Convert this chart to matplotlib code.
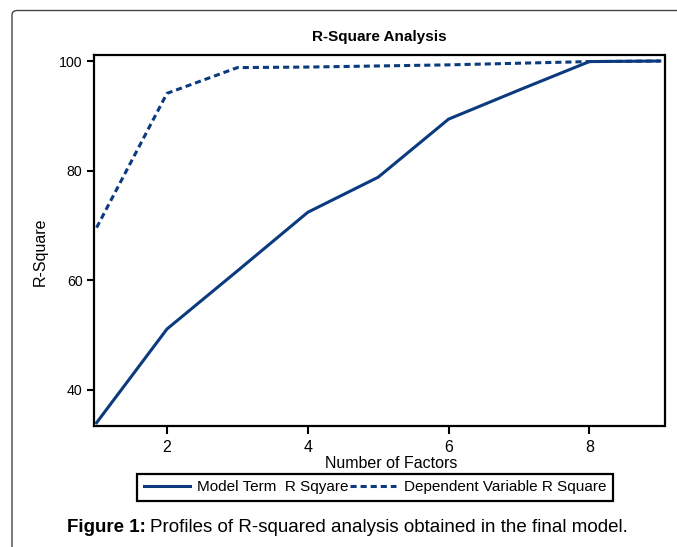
import matplotlib
matplotlib.use('Agg')
import matplotlib.pyplot as plt
from matplotlib.patches import FancyBboxPatch

# ── data ─────────────────────────────────────────────
factors = [1, 2, 3, 4, 5, 6, 7, 8, 9]
model_term_r2 = [34.0, 51.1, 61.7, 72.4, 78.8, 89.4, 94.7, 99.9, 100.0]
dependent_r2 = [69.6, 94.1, 98.8, 98.9, 99.1, 99.3, 99.6, 99.9, 100.0]
x_ticks = [2, 4, 6, 8]
y_ticks = [40, 60, 80, 100]

LINE_COLOR = '#0b3a7e'
plt.rcParams['font.family'] = ['Liberation Sans', 'DejaVu Sans']

fig = plt.figure(figsize=(6.77, 5.47), dpi=100)
fig.patch.set_facecolor('white')

# rounded page frame (open at right / bottom)
frame = FancyBboxPatch((12 / 677, -0.2), 1.2, 1 - 10.5 / 547 + 0.2,
                       boxstyle='round,pad=0,rounding_size=0.008',
                       transform=fig.transFigure, fill=False,
                       edgecolor='#444444', linewidth=1.0)
fig.patches.append(frame)

ax = fig.add_axes([93.5 / 677, 1 - 426 / 547, 571 / 677, 371 / 547])
ax.plot(factors, model_term_r2, color=LINE_COLOR, lw=2.2,
        label='Model Term  R Sqyare')
ax.plot(factors, dependent_r2, color=LINE_COLOR, lw=2.2,
        linestyle=(0, (2, 1.3)), label='Dependent Variable R Square')

ax.set_xlim(0.956, 9.067)
ax.set_ylim(33.4, 101.1)
ax.set_xticks(x_ticks)
ax.set_yticks(y_ticks)
ax.tick_params(axis='x', direction='out', length=6, width=1.5, labelsize=11.5, pad=4)
ax.tick_params(axis='y', direction='out', length=5, width=1.5, labelsize=10.2, pad=3)
for s in ax.spines.values():
    s.set_linewidth(1.6)

ax.set_title('R-Square Analysis', fontsize=11, fontweight='bold', pad=10)
ax.set_xlabel('Number of Factors', fontsize=11.5)
ax.xaxis.set_label_coords(0.521, -0.080)
ax.set_ylabel('R-Square', fontsize=11.5)
ax.yaxis.set_label_coords(-0.080, 0.469)

leg = fig.legend(loc='center', bbox_to_anchor=(375 / 677, 1 - 487.5 / 547),
                 ncol=2, fontsize=11, handlelength=3.0, handletextpad=0.5,
                 columnspacing=0.1, fancybox=False, framealpha=1,
                 borderpad=0.45, edgecolor='black')
leg.get_frame().set_linewidth(1.6)

# caption with bold prefix
cap_y = 1 - 527 / 547
t1 = fig.text(67 / 677, cap_y, 'Figure 1:', fontsize=13.5, fontweight='bold',
              va='center', ha='left')
fig.canvas.draw()
bb = t1.get_window_extent()
fig.text((bb.x1 + 4) / 677, cap_y,
         'Profiles of R-squared analysis obtained in the final model.',
         fontsize=13.5, va='center', ha='left')

fig.savefig('out.png', dpi=100)
